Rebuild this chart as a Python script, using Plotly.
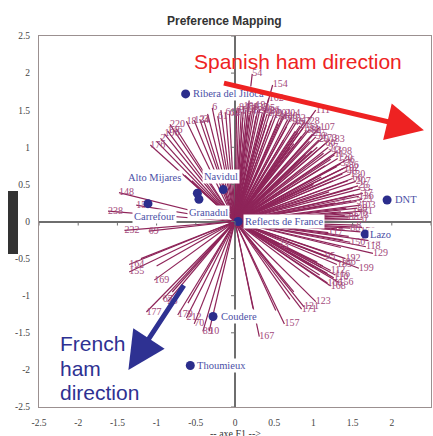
import plotly.graph_objects as go

# ---------------- data ----------------
# consumer vectors (end points) and their labels
cons_x = [
    # upper-left sector
    -1.08, -0.95, -0.90, -0.86, -0.83, -0.62, -0.52, -0.45, -0.40, -0.29, -0.22, -0.12, -0.07, -0.64, -0.55,
    -0.75, -1.00, -0.35, -0.18,
    # top / special
    0.22, 0.48, 0.43,
    # upper-right fan
    0.02, 0.05, 0.08, 0.11, 0.14, 0.17, 0.20, 0.23, 0.26, 0.29, 0.32, 0.35, 0.38, 0.41, 0.45, 0.49,
    0.53, 0.57, 0.61, 0.64, 0.67, 0.71, 0.75, 0.79, 0.83, 0.89, 0.87, 0.91, 0.95, 0.99, 1.03, 1.08,
    1.03, 1.07, 1.11, 1.15, 1.21, 1.19, 1.23, 1.30, 1.27, 1.31, 1.40, 1.45, 1.35, 1.39, 1.43, 1.47,
    1.50, 1.54, 1.57, 1.60, 1.63, 1.58, 1.62, 1.55, 1.28, 1.60, 1.56, 1.63, 1.50, 1.58, 1.45, 1.62,
    0.90, 1.10, 0.62, 1.20, 0.80, 1.00, 0.40, 0.70,
    0.10, 0.18, 0.27, 0.36, 0.46, 0.55, 0.66, 0.77, 0.85, 0.95, 1.05, 1.13, 1.22, 1.30, 1.37, 1.44,
    1.50, 1.52, 1.48, 1.42, 1.40, 1.35, 1.25, 1.15, 0.98, 0.75,
    # lower-right sector
    1.19, 1.30, 1.40, 1.47, 1.55, 1.60, 1.62, 1.47, 1.73, 1.67, 1.76, 1.58, 1.41, 1.35, 1.30, 1.15,
    1.22, 1.28, 1.26, 1.32, 1.22, 1.18, 0.56, 0.62, 1.03, 0.88, 0.85, 0.63, 0.31, 0.23, 1.10, 1.25,
    1.05, 1.12, 1.18, 1.00, 1.08, 1.35, 1.45, 1.38, 0.95, 0.75, 0.70, 0.52,
    # lower-left sector
    -1.35, -1.35, -1.03, -1.13, -0.92, -0.86, -0.73, -0.62, -0.52, -0.41, -0.33,
    -1.20, -0.80, -0.60, -1.00,
    # left
    -1.48, -1.26, -1.62, -1.41, -1.10,
]
cons_y = [
    1.03, 1.12, 1.18, 1.22, 1.31, 1.35, 1.36, 1.38, 1.37, 1.53, 1.42, 1.47, 1.45, 0.62, 0.55,
    1.25, 1.08, 1.45, 1.50,
    1.99, 1.84, 1.66,
    1.50, 1.53, 1.48, 1.55, 1.51, 1.54, 1.49, 1.53, 1.56, 1.50, 1.52, 1.47, 1.50, 1.45, 1.48, 1.43,
    1.45, 1.40, 1.42, 1.45, 1.37, 1.39, 1.33, 1.35, 1.29, 1.35, 1.26, 1.22, 1.24, 1.18, 1.50, 1.27,
    1.14, 1.10, 1.12, 1.05, 1.10, 1.00, 0.96, 0.94, 0.90, 0.85, 0.82, 0.75, 0.78, 0.72, 0.68, 0.64,
    0.58, 0.54, 0.48, 0.44, 0.38, 0.34, 0.30, 0.27, 0.25, 0.22, 0.18, 0.14, 0.11, 0.08, 0.05, 0.03,
    0.90, 0.60, 1.10, 0.40, 1.20, 0.50, 1.30, 1.00,
    1.40, 1.44, 1.42, 1.38, 1.36, 1.32, 1.28, 1.22, 1.15, 1.08, 1.00, 0.92, 0.84, 0.74, 0.64, 0.55,
    0.45, 0.36, 0.28, 0.18, 0.08, 0.13, 0.55, 0.75, 0.95, 1.05,
    -0.15, -0.10, -0.12, -0.09, -0.05, -0.14, -0.08, -0.28, -0.26, -0.34, -0.43, -0.63, -0.50, -0.55, -0.58, -0.47,
    -0.66, -0.72, -0.76, -0.82, -0.87, -0.83, -0.30, -0.33, -1.08, -1.15, -1.18, -1.38, -1.55, -1.17, -0.62, -0.45,
    -0.55, -0.60, -0.70, -0.62, -0.72, -0.35, -0.20, -0.25, -0.75, -0.95, -1.05, -1.20,
    -0.58, -0.68, -0.79, -1.22, -1.05, -1.08, -1.26, -1.30, -1.38, -1.48, -1.48,
    -0.50, -0.95, -1.10, -0.60,
    0.39, 0.22, 0.14, -0.12, -0.13,
]
cons_lab = [
    "176", "2", "196", "146", "220", "18", "124", "24", "3", "6", "61", "612", "62", "", "",
    "", "", "", "",
    "54", "154", "162",
    "65", "84", "154", "184", "15", "58", "41", "137", "19", "206", "105", "74", "126", "209", "31", "141",
    "201", "86", "140", "204", "93", "132", "46", "217", "21", "228", "133", "182", "81", "215", "111", "107",
    "50", "29", "173", "60", "183", "97", "43", "198", "11", "120", "96", "86", "37", "192", "48", "130",
    "66", "207", "25", "33", "17", "136", "23", "3", "57", "103", "88", "71", "176", "13", "88", "0",
    "", "", "", "", "", "", "", "",
    "", "", "", "", "", "", "", "", "", "", "", "", "", "", "", "",
    "", "", "", "", "", "", "", "", "", "",
    "117", "", "", "88", "8", "170", "", "150", "14", "118", "129", "199", "192", "186", "185", "95",
    "112", "116", "110", "156", "168", "166", "2", "3", "123", "121", "171", "157", "167", "", "", "",
    "", "", "", "", "", "", "", "", "", "", "", "",
    "164", "155", "169", "177", "67", "26", "179", "212", "70", "89", "10",
    "", "", "", "",
    "148", "15", "238", "232", "69",
]

# product (sample) positions
prod_names = ["Ribera del Jiloca", "Alto Mijares", "Granadul", "Navidul", "Carrefour",
              "Reflects de France", "DNT", "Lazo", "Coudere", "Thoumieux"]
prod_x = [-0.63, -0.48, -0.46, -0.15, -1.11, 0.04, 1.94, 1.66, -0.28, -0.57]
prod_y = [1.72, 0.38, 0.30, 0.43, 0.24, 0.00, 0.29, -0.17, -1.28, -1.94]

tick_vals = [-2.5, -2, -1.5, -1, -0.5, 0, 0.5, 1, 1.5, 2, 2.5]
tick_text = ["-2.5", "-2", "-1.5", "-1", "-0.5", "0", "0.5", "1", "1.5", "2", "2.5"]

# ---------------- styles ----------------
LINE_COL = "#8E2459"
LAB_COL = "#A3497B"
PROD_COL = "#2B2D8C"
PROD_LAB = "#4B4FA6"
SERIF = "Liberation Serif"
SANS = "Liberation Sans"

# product label placement (anchor, xshift, yshift)
prod_place = {
    "Ribera del Jiloca": ("left", 5, 0),
    "Alto Mijares": ("right", -14, 16),
    "Granadul": ("left", -12, -13),
    "Navidul": ("center", -2, 13),
    "Carrefour": ("center", 7, -13),
    "Reflects de France": ("left", 5, 0),
    "DNT": ("left", 6, 0),
    "Lazo": ("left", 3, 0),
    "Coudere": ("left", 6, 0),
    "Thoumieux": ("left", 5, 0),
}

# ---------------- build ----------------
lx, ly = [], []
for x, y in zip(cons_x, cons_y):
    lx += [0, x, None]
    ly += [0, y, None]

fig = go.Figure()
fig.add_trace(go.Scatter(x=lx, y=ly, mode="lines",
                         line=dict(color=LINE_COL, width=1.2), hoverinfo="skip",
                         showlegend=False))
fig.add_trace(go.Scatter(x=cons_x, y=cons_y, mode="text", text=cons_lab,
                         textposition="middle right",
                         textfont=dict(family=SERIF, size=10, color=LAB_COL),
                         showlegend=False, cliponaxis=False))
fig.add_trace(go.Scatter(x=prod_x, y=prod_y, mode="markers",
                         marker=dict(color=PROD_COL, size=9),
                         showlegend=False))

annotations = []
for n, x, y in zip(prod_names, prod_x, prod_y):
    anc, xs, ys = prod_place[n]
    annotations.append(dict(x=x, y=y, xref="x", yref="y", text=n, showarrow=False,
                            xanchor=anc, yanchor="middle", xshift=xs, yshift=ys,
                            bgcolor="white", borderpad=1,
                            font=dict(family=SERIF, size=10.5, color=PROD_LAB)))

# direction arrows
annotations.append(dict(x=2.41, y=1.23, ax=-0.16, ay=1.87, xref="x", yref="y",
                        axref="x", ayref="y", text="", showarrow=True,
                        arrowhead=2, arrowsize=1.5, arrowwidth=5, arrowcolor="#EE2222"))
annotations.append(dict(x=-1.36, y=-2.0, ax=-0.64, ay=-0.84, xref="x", yref="y",
                        axref="x", ayref="y", text="", showarrow=True,
                        arrowhead=2, arrowsize=1.5, arrowwidth=5, arrowcolor="#2E3192"))

annotations.append(dict(x=0.661, y=0.930, xref="paper", yref="paper",
                        text="Spanish ham direction", showarrow=False,
                        xanchor="center", yanchor="middle",
                        font=dict(family=SANS, size=21, color="#EE2222")))
for i, w in enumerate(["French", "ham", "direction"]):
    py = [343, 368, 392][i]
    annotations.append(dict(x=(58 - 39) / 392, y=(407 - py) / 371, xref="paper", yref="paper",
                            text=w, showarrow=False, xanchor="left", yanchor="middle",
                            font=dict(family=SANS, size=21, color="#2E3192")))

annotations.append(dict(x=(224 - 39) / 392, y=(407 - 21) / 371, xref="paper", yref="paper",
                        text="<b>Preference Mapping</b>", showarrow=False,
                        xanchor="center", yanchor="middle",
                        font=dict(family=SANS, size=12, color="#333333")))
annotations.append(dict(x=0.5, y=(407 - 433) / 371, xref="paper", yref="paper",
                        text="-- axe F1 -->", showarrow=False,
                        xanchor="center", yanchor="middle",
                        font=dict(family=SERIF, size=10, color="#333333")))

shapes = []
for v in tick_vals:
    shapes.append(dict(type="line", xref="x", yref="y", ysizemode="pixel", yanchor=0,
                       x0=v, x1=v, y0=0, y1=-4, line=dict(color="#6e6e6e", width=1)))
    shapes.append(dict(type="line", xref="x", yref="y", xsizemode="pixel", xanchor=0,
                       x0=-4, x1=0, y0=v, y1=v, line=dict(color="#6e6e6e", width=1)))
shapes.append(dict(type="rect", xref="paper", yref="paper",
                   x0=(8 - 39) / 392, x1=(18 - 39) / 392,
                   y0=(407 - 254) / 371, y1=(407 - 191) / 371,
                   fillcolor="#333333", line=dict(width=0)))

axis_common = dict(range=[-2.5, 2.5], tickvals=tick_vals, ticktext=tick_text,
                   showgrid=False, zeroline=True, zerolinecolor="#6e6e6e", zerolinewidth=1.5,
                   showline=True, mirror=True, linecolor="#9b9090", linewidth=1,
                   ticks="", tickfont=dict(family=SERIF, size=9.5, color="#444444"))

fig.update_layout(
    width=433, height=436,
    margin=dict(l=39, r=2, t=36, b=29),
    paper_bgcolor="white", plot_bgcolor="white",
    xaxis=dict(**axis_common, ticklabelstandoff=7),
    yaxis=dict(**axis_common, ticklabelstandoff=6),
    annotations=annotations, shapes=shapes,
    showlegend=False,
)

fig.write_html("out.html")
